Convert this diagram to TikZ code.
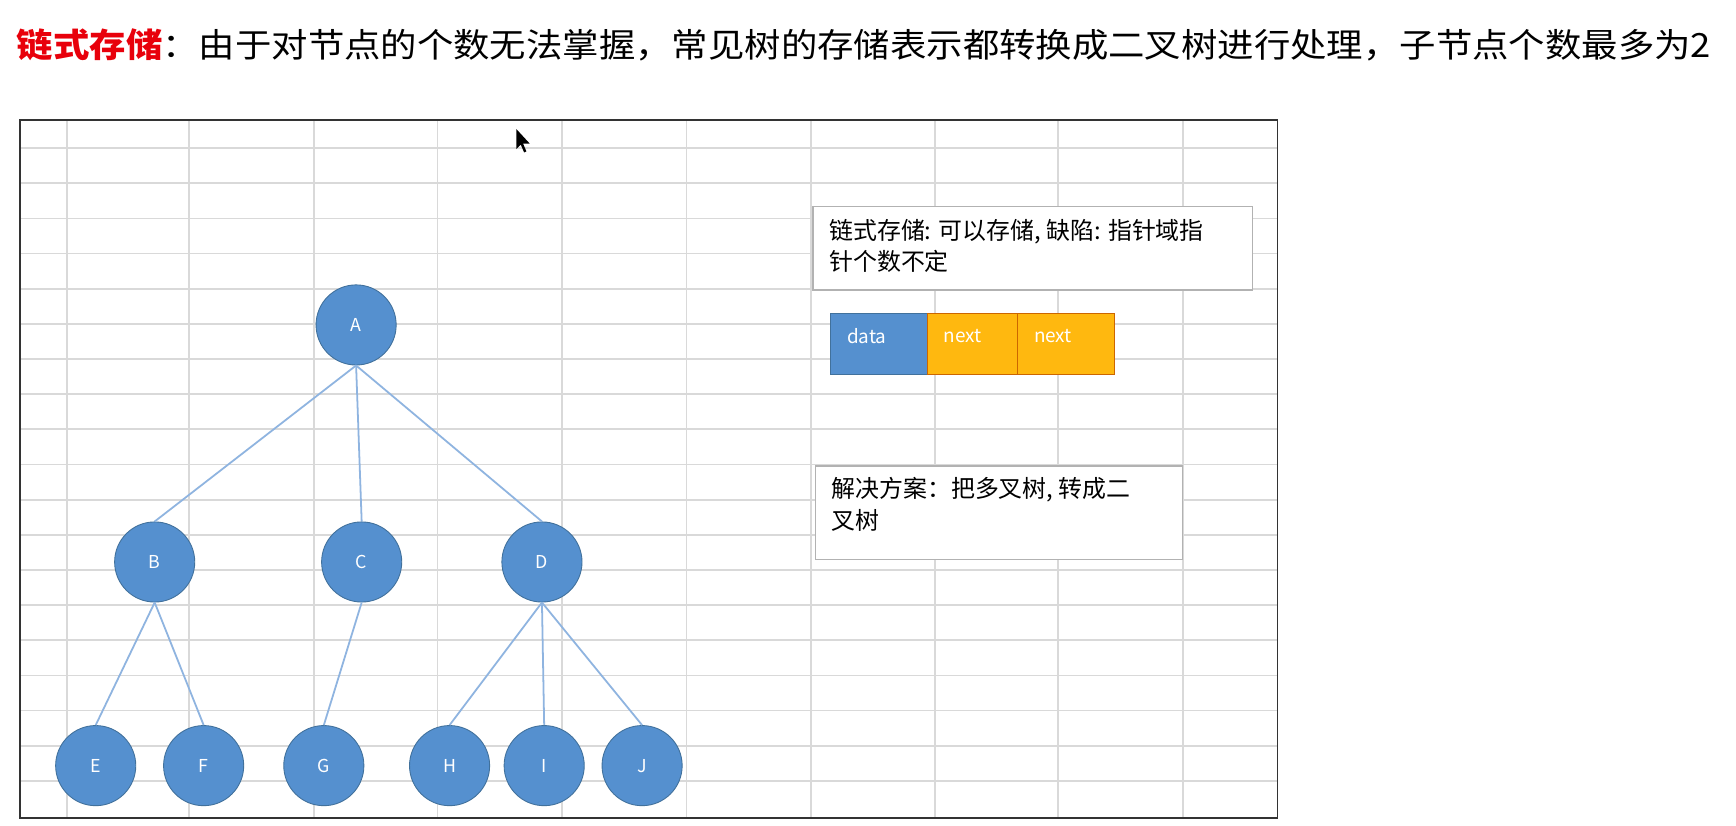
\documentclass[tikz,border=0pt]{standalone}
\usepackage{fontspec}
\usepackage{graphicx}
\setmainfont{Noto Sans CJK SC}
\newfontfamily\cjk{Noto Sans CJK SC}
\definecolor{nodefill}{HTML}{5590CF}
\definecolor{nodeline}{HTML}{41719C}
\definecolor{edgec}{HTML}{8FB4E0}
\definecolor{gridc}{HTML}{D9D9D9}
\definecolor{orangec}{HTML}{FFB80F}
\definecolor{redc}{HTML}{E8000B}
\tikzset{
 tnode/.style={circle,fill=nodefill,draw=nodeline,line width=0.8pt,minimum size=72pt,inner sep=0pt,text=white,font=\fontsize{16}{16}\selectfont},
 edge/.style={edgec,line width=1.6pt},
 tbox/.style={draw=gray!60,line width=1.2pt,fill=white,anchor=north west,align=left,inner sep=0pt},
 cell/.style={minimum height=55pt,inner sep=0pt,anchor=north west,font=\fontsize{16}{16}\selectfont,text=white,line width=0.6pt},
 btext/.style={anchor=north west,align=left,inner sep=0pt,font=\fontsize{21.5}{28}\selectfont}
}
\begin{document}
\begin{tikzpicture}[x=1pt,y=-1pt]
\useasboundingbox (0,0) rectangle (1560,742);
\fill[white] (0,0) rectangle (1560,742);
% title
\node[anchor=west,inner sep=0pt,font=\fontsize{30}{30}\selectfont] (title) at (15,40)
 {\scalebox{1.09}[1]{\textcolor{redc}{\bfseries 链式存储}：由于对节点的个数无法掌握，常见树的存储表示都转换成二叉树进行处理，子节点个数最多为2}};
% grid
\foreach \x in {60,170,282,393,505,617,729,840,951,1063}
 \draw[gridc,line width=1.5pt] (\x,108) -- (\x,735);
\foreach \i in {0,...,18}
 \draw[gridc,line width=1.5pt] (18,133+\i*31.6) -- (1148,133+\i*31.6);
\draw[black!80,line width=1.5pt] (18,108) rectangle (1148,735);
% cursor
\fill[black] (464,116) -- (464,134) -- (468,130) -- (471,137) -- (473,136) -- (470,129) -- (476,129) -- cycle;
% nodes
\node[tnode] (A) at (320,292) {A};
\node[tnode] (B) at (139,505) {B};
\node[tnode] (C) at (325,505) {C};
\node[tnode] (D) at (487,505) {D};
\node[tnode] (E) at (86,688) {E};
\node[tnode] (F) at (183,688) {F};
\node[tnode] (G) at (291,688) {G};
\node[tnode] (H) at (404,688) {H};
\node[tnode] (I) at (489,688) {I};
\node[tnode] (J) at (577,688) {J};
\draw[edge] (A.south) -- (B.north);
\draw[edge] (A.south) -- (C.north);
\draw[edge] (A.south) -- (D.north);
\draw[edge] (B.south) -- (E.north);
\draw[edge] (B.south) -- (F.north);
\draw[edge] (C.south) -- (G.north);
\draw[edge] (D.south) -- (H.north);
\draw[edge] (D.south) -- (I.north);
\draw[edge] (D.south) -- (J.north);
% text boxes
\node[tbox,minimum width=395pt,minimum height=75pt] (box1) at (730,185) {};
\node[btext] (t1) at (745,197)
 {链式存储: 可以存储, 缺陷: 指针域指\\针个数不定};
\node[tbox,minimum width=330pt,minimum height=84pt] (box2) at (732,418) {};
\node[btext] (t2) at (747,429)
 {解决方案：把多叉树, 转成二\\叉树};
% record
\node[cell,fill=nodefill,draw=nodeline,minimum width=87pt] (c1) at (746,281) {};
\node[cell,fill=orangec,draw=orange!80!black,minimum width=81pt] (c2) at (833,281) {};
\node[cell,fill=orangec,draw=orange!80!black,minimum width=87pt] (c3) at (914,281) {};
\node[anchor=west,font=\fontsize{17}{17}\selectfont,text=white,inner sep=0pt] (l1) at (761,302) {data};
\node[anchor=west,font=\fontsize{17}{17}\selectfont,text=white,inner sep=0pt] (l2) at (848,302) {next};
\node[anchor=west,font=\fontsize{17}{17}\selectfont,text=white,inner sep=0pt] (l3) at (929,302) {next};
\end{tikzpicture}
\end{document}
